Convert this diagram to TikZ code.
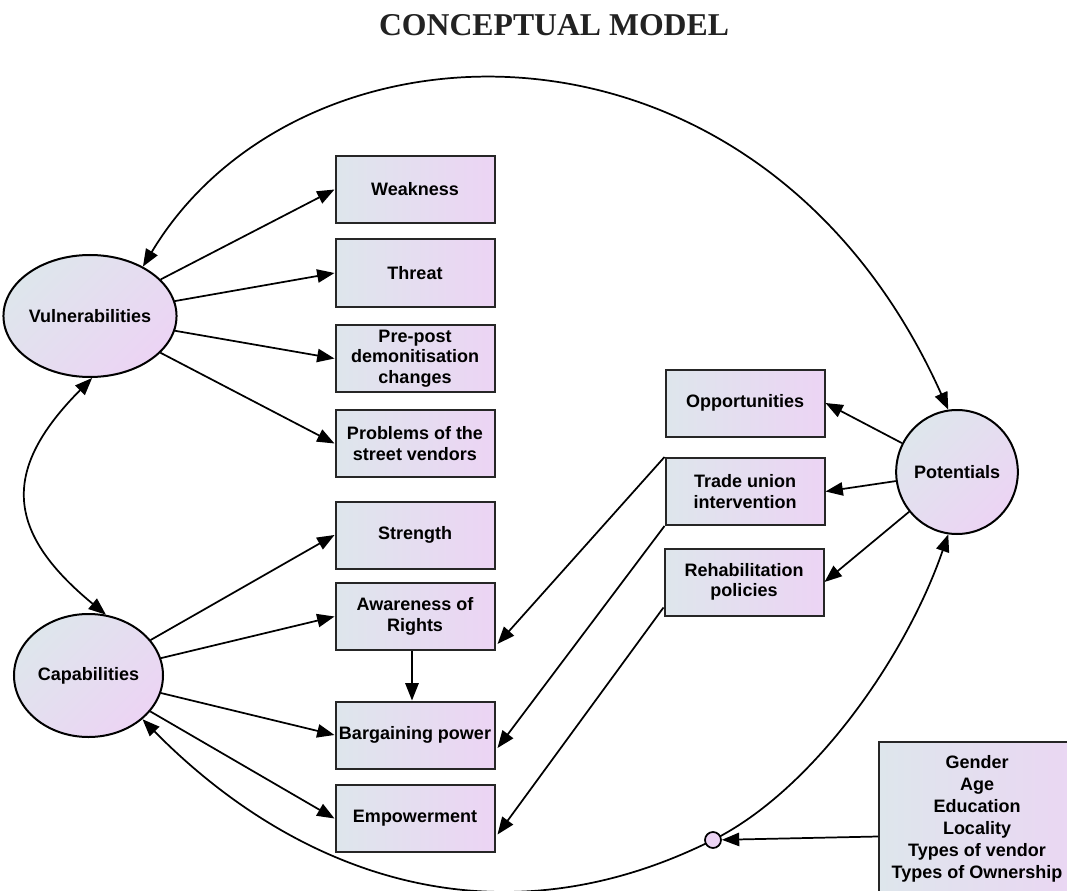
\documentclass[tikz,border=0pt]{standalone}
\usepackage{fontspec}
\setmainfont{Liberation Sans}
\newfontfamily\titlefont{Liberation Serif}
\usetikzlibrary{arrows.meta,calc,shapes.geometric}
\definecolor{shadeA}{RGB}{222,230,236}
\definecolor{shadeB}{RGB}{236,212,244}
\definecolor{titlegray}{RGB}{34,34,34}

\begin{document}
\begin{tikzpicture}[x=0.75pt,y=-0.75pt,
  lbl/.style={font=\fontsize{13.5}{15.5}\selectfont\bfseries},
  factor/.style={lbl, draw=black!85, line width=1.5pt, left color=shadeA, right color=shadeB,
    minimum width=119.25pt, minimum height=50.25pt, inner sep=1pt, align=center},
  construct/.style={lbl, ellipse, draw=black, line width=1.5pt, left color=shadeA, right color=shadeB,
    shading angle=45, inner sep=0pt},
  link/.style={line width=1.3pt, -{Triangle[length=13pt,width=10pt]}},
  both/.style={line width=1.3pt, {Triangle[length=13pt,width=10pt]}-{Triangle[length=13pt,width=10pt]}},
]
\path[use as bounding box] (0,0) rectangle (1067,891);
\clip (0,0) rectangle (1067,891);

% title
\node[font=\titlefont\fontsize{23.8}{28}\selectfont\bfseries, text=titlegray, anchor=base] (title) at (554,36) {CONCEPTUAL MODEL};

% latent constructs
\node[construct, minimum width=111pt, minimum height=91.5pt] (vul) at (90,316) {Vulnerabilities};
\node[construct, minimum width=111.75pt, minimum height=92.25pt] (cap) at (88.5,675.5) {Capabilities};
\node[construct, minimum width=87pt, minimum height=93pt] (pot) at (957,472) {Potentials};

% observed factors, left column
\node[factor] (weak) at (415,189.5) {Weakness};
\node[factor] (threat) at (415,273) {Threat};
\node[factor] (prepost) at (415,358.5) {Pre-post\\demonitisation\\changes};
\node[factor] (problems) at (415,443.5) {Problems of the\\street vendors};
\node[factor] (strength) at (415,535) {Strength};
\node[factor] (aware) at (415,616.5) {Awareness of\\Rights};
\node[factor] (barg) at (415,735) {Bargaining power};
\node[factor] (emp) at (415,818.5) {Empowerment};

% observed factors, right column
\node[factor] (opp) at (745,403) {Opportunities};
\node[factor] (trade) at (745,491.5) {Trade union\\intervention};
\node[factor] (rehab) at (744,582) {Rehabilitation\\policies};

% socio-demographic controls: box runs off the page edge, text sits in its visible part
\node[factor, minimum width=168pt, minimum height=114.75pt, anchor=west] (demo) at (878,818.5) {};
\node[font=\fontsize{13.5}{16.5}\selectfont\bfseries, align=center, inner sep=0pt] (demotext) at (977,818.5)
  {Gender\\Age\\Education\\Locality\\Types of vendor\\Types of Ownership};

% vulnerabilities
\draw[link] (vul) -- (weak.west);
\draw[link] (vul) -- (threat.west);
\draw[link] (vul) -- (prepost.west);
\draw[link] (vul) -- (problems.west);

% capabilities
\draw[link] (cap) -- (strength.west);
\draw[link] (cap) -- (aware.west);
\draw[link] (cap) -- (barg.west);
\draw[link] (cap) -- (emp.west);
\draw[link] ($(aware.south)+(-3,0)$) -- ($(barg.north)+(-3,0)$);

% potentials
\draw[link] (pot) -- (opp.east);
\draw[link] (pot) -- (trade.east);
\draw[link] (pot) -- (rehab.east);
\draw[link] (trade.north west) -- ($(aware.south east)+(2,-7)$);
\draw[link] (trade.south west) -- ($(barg.east)+(2,13)$);
\draw[link] ($(rehab.south west)+(0,-9)$) -- ($(emp.east)+(2,16)$);

% covariances between constructs
\draw[both] (vul.43) .. controls (300,5) and (760,-10) .. (pot.98);
\draw[both] (vul.272) .. controls (3,468) and (3,530) .. (cap.74);
\coordinate (knotpt) at (713,840);
\draw[both] (cap.-39) .. controls (293,872) and (493,950) .. (knotpt)
  .. controls (813,790) and (906,657) .. (pot.262);
\node[circle, draw=black, line width=1.3pt, fill=shadeB, minimum size=12pt, inner sep=0pt] (knot) at (knotpt) {};
\draw[link] ($(demo.west)+(0,18)$) -- (knot);
\end{tikzpicture}
\end{document}
